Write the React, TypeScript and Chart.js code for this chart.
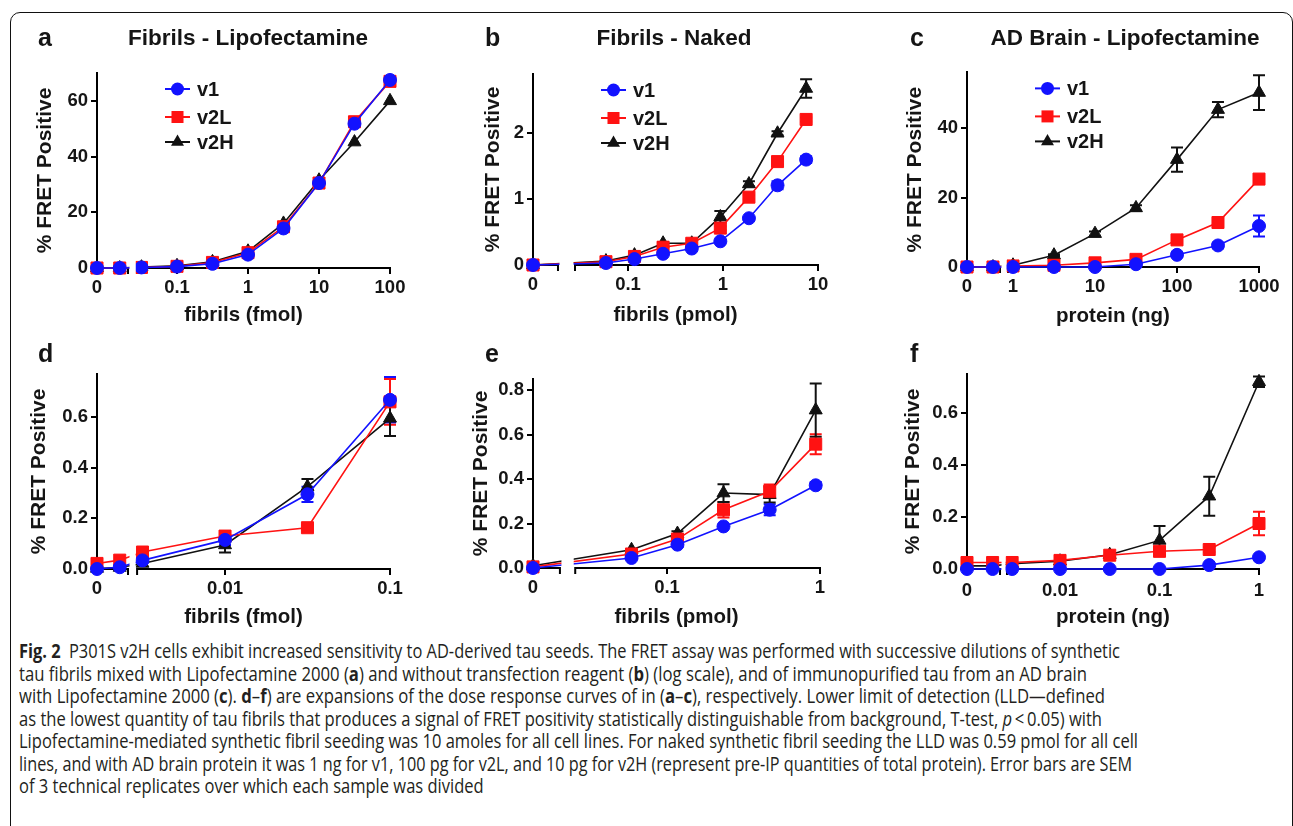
import React, { useEffect, useLayoutEffect, useRef } from 'react';
import { Chart, registerables } from 'chart.js';

Chart.register(...registerables);

// ---------------- DATA ----------------
const SERIES_LABELS = ['v1', 'v2L', 'v2H'];

// Panel a: Fibrils - Lipofectamine (fmol)
const aDose = [0, 0.0156, 0.0316, 0.1, 0.316, 1, 3.16, 10, 31.6, 100];
const aV1 = [0, 0, 0.2, 0.5, 1.5, 4.8, 14.2, 30.5, 51.8, 67.5];
const aV2L = [0, 0, 0.2, 0.6, 2.0, 5.5, 14.8, 30.5, 52.5, 67.0];
const aV2H = [0, 0, 0.3, 0.8, 2.2, 6.0, 16.0, 31.5, 45.2, 60.0];
const aE1 = [0, 0, 0, 0, 0, 0, 0, 0, 0, 1];
const aE2L = [0, 0, 0, 0, 0, 0, 0, 0, 0, 1];
const aE2H = [0, 0, 0, 0, 0, 0, 0, 0, 0, 0];
const aXTicks = [0, 0.1, 1, 10, 100];
const aXTickLabels = ['0', '0.1', '1', '10', '100'];
const aYTicks = [0, 20, 40, 60];
const aYTickLabels = ['0', '20', '40', '60'];

// Panel b: Fibrils - Naked (pmol)
const bDose = [0, 0.0586, 0.117, 0.234, 0.469, 0.9375, 1.875, 3.75, 7.5];
const bV1 = [0, 0.03, 0.09, 0.17, 0.25, 0.36, 0.71, 1.21, 1.6];
const bV2L = [0, 0.05, 0.13, 0.27, 0.33, 0.56, 1.03, 1.57, 2.21];
const bV2H = [0, 0.06, 0.15, 0.33, 0.33, 0.73, 1.23, 2.0, 2.68];
const bE1 = [0, 0, 0, 0, 0, 0, 0.02, 0.06, 0.05];
const bE2L = [0, 0, 0, 0, 0, 0.03, 0.03, 0.04, 0.03];
const bE2H = [0, 0, 0, 0.02, 0, 0.09, 0.04, 0.03, 0.14];
const bXTicks = [0, 0.1, 1, 10];
const bXTickLabels = ['0', '0.1', '1', '10'];
const bYTicks = [0, 1, 2];
const bYTickLabels = ['0', '1', '2'];

// Panel c: AD Brain - Lipofectamine (ng)
const cDose = [0, 0.57, 1, 3.16, 10, 31.6, 100, 316, 1000];
const cV1 = [0, 0, 0, 0, 0, 0.8, 3.5, 6.2, 11.8];
const cV2L = [0, 0, 0.3, 0.5, 1.2, 2.2, 7.8, 12.8, 25.3];
const cV2H = [0, 0, 0.5, 3.4, 9.6, 17.0, 30.9, 45.3, 50.2];
const cE1 = [0, 0, 0, 0, 0, 0, 0.6, 0.8, 3];
const cE2L = [0, 0, 0, 0, 0, 0, 0.6, 1.2, 1];
const cE2H = [0, 0, 0, 0.3, 0.6, 0.8, 3.5, 2.2, 5];
const cXTicks = [0, 1, 10, 100, 1000];
const cXTickLabels = ['0', '1', '10', '100', '1000'];
const cYTicks = [0, 20, 40];
const cYTickLabels = ['0', '20', '40'];

// Panel d: expansion of a
const dDose = [0, 0.0023, 0.00316, 0.01, 0.0316, 0.1];
const dV1 = [0, 0.007, 0.034, 0.115, 0.295, 0.668];
const dV2L = [0.022, 0.035, 0.067, 0.13, 0.163, 0.66];
const dV2H = [0.002, 0.006, 0.022, 0.095, 0.325, 0.595];
const dE1 = [0, 0, 0.01, 0.02, 0.03, 0.09];
const dE2L = [0, 0, 0, 0.02, 0.01, 0.09];
const dE2H = [0, 0, 0, 0.03, 0.03, 0.07];
const dXTicks = [0, 0.01, 0.1];
const dXTickLabels = ['0', '0.01', '0.1'];
const dYTicks = [0, 0.2, 0.4, 0.6];
const dYTickLabels = ['0.0', '0.2', '0.4', '0.6'];

// Panel e: expansion of b
const eDose = [0, 0.0586, 0.117, 0.234, 0.469, 0.9375];
const eV1 = [0, 0.045, 0.105, 0.187, 0.262, 0.372];
const eV2L = [0.005, 0.063, 0.13, 0.262, 0.345, 0.557];
const eV2H = [0.01, 0.082, 0.155, 0.337, 0.33, 0.71];
const eE1 = [0, 0, 0.01, 0, 0.025, 0.015];
const eE2L = [0, 0, 0.01, 0.035, 0.03, 0.045];
const eE2H = [0, 0, 0.01, 0.04, 0.035, 0.12];
const eXTicks = [0, 0.1, 1];
const eXTickLabels = ['0', '0.1', '1'];
const eYTicks = [0, 0.2, 0.4, 0.6, 0.8];
const eYTickLabels = ['0.0', '0.2', '0.4', '0.6', '0.8'];

// Panel f: expansion of c
const fDose = [0, 0.0021, 0.0033, 0.01, 0.0316, 0.1, 0.316, 1];
const fV1 = [0, 0, 0, 0, 0, 0, 0.015, 0.045];
const fV2L = [0.025, 0.025, 0.025, 0.033, 0.053, 0.068, 0.075, 0.175];
const fV2H = [0.012, 0.012, 0.02, 0.03, 0.055, 0.11, 0.28, 0.72];
const fE1 = [0, 0, 0, 0, 0, 0, 0, 0];
const fE2L = [0, 0, 0, 0, 0, 0.01, 0.01, 0.045];
const fE2H = [0, 0, 0, 0, 0, 0.055, 0.075, 0.02];
const fXTicks = [0, 0.01, 0.1, 1];
const fXTickLabels = ['0', '0.01', '0.1', '1'];
const fYTicks = [0, 0.2, 0.4, 0.6];
const fYTickLabels = ['0.0', '0.2', '0.4', '0.6'];

type Seg = { t: string; b?: boolean; i?: boolean };
const captionLines: Seg[][] = [
  [{ t: 'Fig. 2', b: true }, { t: '\u2002P301S v2H cells exhibit increased sensitivity to AD-derived tau seeds. The FRET assay was performed with successive dilutions of synthetic' }],
  [{ t: 'tau fibrils mixed with Lipofectamine 2000 (' }, { t: 'a', b: true }, { t: ') and without transfection reagent (' }, { t: 'b', b: true }, { t: ') (log scale), and of immunopurified tau from an AD brain' }],
  [{ t: 'with Lipofectamine 2000 (' }, { t: 'c', b: true }, { t: '). ' }, { t: 'd', b: true }, { t: '–' }, { t: 'f', b: true }, { t: ') are expansions of the dose response curves of in (' }, { t: 'a', b: true }, { t: '–' }, { t: 'c', b: true }, { t: '), respectively. Lower limit of detection (LLD—defined' }],
  [{ t: 'as the lowest quantity of tau fibrils that produces a signal of FRET positivity statistically distinguishable from background, T-test, ' }, { t: 'p', i: true }, { t: '\u2009<\u20090.05) with' }],
  [{ t: 'Lipofectamine-mediated synthetic fibril seeding was 10 amoles for all cell lines. For naked synthetic fibril seeding the LLD was 0.59 pmol for all cell' }],
  [{ t: 'lines, and with AD brain protein it was 1 ng for v1, 100 pg for v2L, and 10 pg for v2H (represent pre-IP quantities of total protein). Error bars are SEM' }],
  [{ t: 'of 3 technical replicates over which each sample was divided' }],
];

// ---------------- STYLE / LAYOUT ----------------
const FONT = '"Liberation Sans", Arial, Helvetica, sans-serif';
const TXT = '#151515';
type Shape = 'circle' | 'rect' | 'triangle';
const SERIES_STYLE: { color: string; shape: Shape; radius: number }[] = [
  { color: '#1212ff', shape: 'circle', radius: 6.5 },
  { color: '#ff1212', shape: 'rect', radius: 8.5 },
  { color: '#111111', shape: 'triangle', radius: 7.5 },
];

interface Panel {
  letter: string;
  title?: string;
  xTitle: string;
  dose: number[];
  series: { values: number[]; errors: number[] }[];
  xTicks: number[];
  xTickLabels: string[];
  yTicks: number[];
  yTickLabels: string[];
  yMax: number;
  zeroPos: number;
  gap: [number, number];
  legend: boolean;
  box: { left: number; top: number; width: number; height: number };
  area: { axisX: number; right: number; top: number; bottom: number };
  yTitleX: number;
  xTitleY: number;
  xTickPad: number;
}

const panels: Panel[] = [
  {
    letter: 'a', title: 'Fibrils - Lipofectamine', xTitle: 'fibrils (fmol)', dose: aDose,
    series: [{ values: aV1, errors: aE1 }, { values: aV2L, errors: aE2L }, { values: aV2H, errors: aE2H }],
    xTicks: aXTicks, xTickLabels: aXTickLabels, yTicks: aYTicks, yTickLabels: aYTickLabels,
    yMax: 70, zeroPos: -2.127, gap: [-1.69, -1.56], legend: true,
    box: { left: 15, top: 50, width: 400, height: 285 }, area: { axisX: 97, right: 390, top: 73, bottom: 268 },
    yTitleX: 45, xTitleY: 315, xTickPad: 3,
  },
  {
    letter: 'b', title: 'Fibrils - Naked', xTitle: 'fibrils (pmol)', dose: bDose,
    series: [{ values: bV1, errors: bE1 }, { values: bV2L, errors: bE2L }, { values: bV2H, errors: bE2H }],
    xTicks: bXTicks, xTickLabels: bXTickLabels, yTicks: bYTicks, yTickLabels: bYTickLabels,
    yMax: 2.9, zeroPos: -2.0, gap: [-1.737, -1.558], legend: true,
    box: { left: 448, top: 50, width: 400, height: 285 }, area: { axisX: 533, right: 818, top: 74, bottom: 265 },
    yTitleX: 493, xTitleY: 315, xTickPad: 3,
  },
  {
    letter: 'c', title: 'AD Brain - Lipofectamine', xTitle: 'protein (ng)', dose: cDose,
    series: [{ values: cV1, errors: cE1 }, { values: cV2L, errors: cE2L }, { values: cV2H, errors: cE2H }],
    xTicks: cXTicks, xTickLabels: cXTickLabels, yTicks: cYTicks, yTickLabels: cYTickLabels,
    yMax: 56, zeroPos: -0.561, gap: [-0.159, -0.061], legend: true,
    box: { left: 882, top: 50, width: 405, height: 285 }, area: { axisX: 967, right: 1259, top: 72.4, bottom: 267 },
    yTitleX: 915, xTitleY: 316, xTickPad: 3,
  },
  {
    letter: 'd', xTitle: 'fibrils (fmol)', dose: dDose,
    series: [{ values: dV1, errors: dE1 }, { values: dV2L, errors: dE2L }, { values: dV2H, errors: dE2H }],
    xTicks: dXTicks, xTickLabels: dXTickLabels, yTicks: dYTicks, yTickLabels: dYTickLabels,
    yMax: 0.77, zeroPos: -2.776, gap: [-2.588, -2.533], legend: false,
    box: { left: 15, top: 350, width: 400, height: 285 }, area: { axisX: 97, right: 390, top: 374, bottom: 569 },
    yTitleX: 39, xTitleY: 617, xTickPad: 3,
  },
  {
    letter: 'e', xTitle: 'fibrils (pmol)', dose: eDose,
    series: [{ values: eV1, errors: eE1 }, { values: eV2L, errors: eE2L }, { values: eV2H, errors: eE2H }],
    xTicks: eXTicks, xTickLabels: eXTickLabels, yTicks: eYTicks, yTickLabels: eYTickLabels,
    yMax: 0.85, zeroPos: -1.876, gap: [-1.70, -1.60], legend: false,
    box: { left: 448, top: 350, width: 400, height: 285 }, area: { axisX: 533, right: 820, top: 379, bottom: 568 },
    yTitleX: 481, xTitleY: 617, xTickPad: 3,
  },
  {
    letter: 'f', xTitle: 'protein (ng)', dose: fDose,
    series: [{ values: fV1, errors: fE1 }, { values: fV2L, errors: fE2L }, { values: fV2H, errors: fE2H }],
    xTicks: fXTicks, xTickLabels: fXTickLabels, yTicks: fYTicks, yTickLabels: fYTickLabels,
    yMax: 0.75, zeroPos: -2.935, gap: [-2.603, -2.533], legend: false,
    box: { left: 882, top: 350, width: 405, height: 285 }, area: { axisX: 967, right: 1259, top: 374, bottom: 569 },
    yTitleX: 913, xTitleY: 617, xTickPad: 5,
  },
];

const toPos = (v: number, zeroPos: number) => (v === 0 ? zeroPos : Math.log10(v));

function drawMarker(ctx: CanvasRenderingContext2D, shape: Shape, r: number, x: number, y: number) {
  ctx.beginPath();
  if (shape === 'circle') {
    ctx.arc(x, y, r, 0, Math.PI * 2);
  } else if (shape === 'rect') {
    const s = Math.SQRT1_2 * r;
    ctx.rect(x - s, y - s, 2 * s, 2 * s);
  } else {
    let rad = 0;
    ctx.moveTo(x + Math.sin(rad) * r, y - Math.cos(rad) * r);
    rad += (2 * Math.PI) / 3;
    ctx.lineTo(x + Math.sin(rad) * r, y - Math.cos(rad) * r);
    rad += (2 * Math.PI) / 3;
    ctx.lineTo(x + Math.sin(rad) * r, y - Math.cos(rad) * r);
    ctx.closePath();
  }
  ctx.fill();
}

function makePlugin(p: Panel) {
  return {
    id: 'panelExtras',
    beforeDatasetsDraw(chart: any) {
      const ctx: CanvasRenderingContext2D = chart.ctx;
      const xs = chart.scales.x;
      const ys = chart.scales.y;
      const y0 = ys.getPixelForValue(0);
      const g0 = xs.getPixelForValue(p.gap[0]);
      const g1 = xs.getPixelForValue(p.gap[1]);
      ctx.save();
      // broken x axis
      ctx.strokeStyle = '#000';
      ctx.lineWidth = 2;
      ctx.beginPath();
      ctx.moveTo(xs.getPixelForValue(p.zeroPos) - 1, y0);
      ctx.lineTo(g0, y0);
      ctx.moveTo(g1, y0);
      ctx.lineTo(xs.getPixelForValue(xs.max) + 1, y0);
      ctx.moveTo(g0, y0 - 1);
      ctx.lineTo(g0, y0 + 6);
      ctx.moveTo(g1, y0 - 1);
      ctx.lineTo(g1, y0 + 6);
      ctx.stroke();
      // error bars
      p.series.forEach((s, i) => {
        const meta = chart.getDatasetMeta(i);
        ctx.strokeStyle = SERIES_STYLE[i].color;
        ctx.lineWidth = 2;
        s.errors.forEach((e, j) => {
          if (!e) return;
          const x = meta.data[j].x;
          const v = s.values[j];
          const yt = ys.getPixelForValue(v + e);
          const yb = ys.getPixelForValue(Math.max(0, v - e));
          ctx.beginPath();
          ctx.moveTo(x, yt);
          ctx.lineTo(x, yb);
          ctx.moveTo(x - 6, yt);
          ctx.lineTo(x + 6, yt);
          ctx.moveTo(x - 6, yb);
          ctx.lineTo(x + 6, yb);
          ctx.stroke();
        });
      });
      ctx.restore();
    },
    afterDatasetsDraw(chart: any) {
      const ctx: CanvasRenderingContext2D = chart.ctx;
      const xs = chart.scales.x;
      const ys = chart.scales.y;
      const y0 = ys.getPixelForValue(0);
      const g0 = xs.getPixelForValue(p.gap[0]);
      const g1 = xs.getPixelForValue(p.gap[1]);
      ctx.save();
      ctx.fillStyle = '#ffffff';
      ctx.fillRect(g0 + 1.5, chart.chartArea.top, g1 - g0 - 3, y0 - chart.chartArea.top + 8);
      ctx.restore();
    },
    afterDraw(chart: any) {
      if (!p.legend) return;
      const ctx: CanvasRenderingContext2D = chart.ctx;
      const { left, top } = chart.chartArea;
      const rows = [16, 44, 69];
      ctx.save();
      SERIES_STYLE.forEach((st, i) => {
        const y = top + rows[i];
        ctx.strokeStyle = st.color;
        ctx.fillStyle = st.color;
        ctx.lineWidth = 2;
        ctx.beginPath();
        ctx.moveTo(left + 68, y);
        ctx.lineTo(left + 93, y);
        ctx.stroke();
        drawMarker(ctx, st.shape, st.radius, left + 80.5, y);
        ctx.fillStyle = TXT;
        ctx.font = `bold 20px ${FONT}`;
        ctx.textBaseline = 'middle';
        ctx.textAlign = 'left';
        ctx.fillText(SERIES_LABELS[i], left + 100, y + 1);
      });
      ctx.restore();
    },
  };
}

function PanelChart({ p }: { p: Panel }) {
  const ref = useRef<HTMLCanvasElement>(null);
  useEffect(() => {
    const { box, area } = p;
    const yWidth = area.axisX - box.left;
    const xHeight = box.top + box.height - area.bottom;
    const yTitlePad = p.yTitleX - box.left - 12.6;
    const xTitlePad = box.top + box.height - p.xTitleY - 12.3;
    const tickFont = { family: FONT, size: 18.5, weight: 'bold' as const };
    const chart = new Chart(ref.current as HTMLCanvasElement, {
      type: 'line',
      data: {
        datasets: p.series.map((s, i) => {
          const st = SERIES_STYLE[i];
          return {
            label: SERIES_LABELS[i],
            data: p.dose.map((d, j) => ({ x: toPos(d, p.zeroPos), y: s.values[j] })),
            borderColor: st.color,
            backgroundColor: st.color,
            pointBackgroundColor: st.color,
            pointBorderColor: st.color,
            pointStyle: st.shape,
            pointRadius: st.radius,
            pointBorderWidth: 1,
            borderWidth: 1.6,
            tension: 0,
            fill: false,
            clip: false as any,
          };
        }),
      },
      options: {
        animation: false,
        responsive: false,
        events: [],
        layout: {
          padding: { left: 0, top: area.top - box.top, right: box.left + box.width - area.right, bottom: 0 },
        },
        plugins: { legend: { display: false }, tooltip: { enabled: false }, title: { display: false } },
        scales: {
          x: {
            type: 'linear',
            min: p.zeroPos,
            max: Math.log10(p.xTicks[p.xTicks.length - 1]),
            bounds: 'data',
            afterBuildTicks: (s: any) => {
              s.ticks = p.xTicks.map((v) => ({ value: toPos(v, p.zeroPos) }));
            },
            afterFit: (s: any) => {
              s.height = xHeight;
            },
            ticks: {
              callback: (_v: any, i: number) => p.xTickLabels[i],
              autoSkip: false,
              maxRotation: 0,
              minRotation: 0,
              padding: p.xTickPad,
              color: TXT,
              font: tickFont,
            },
            grid: { drawOnChartArea: false, drawTicks: true, tickLength: 6, color: '#000', lineWidth: 2 },
            border: { display: false },
            title: {
              display: true,
              text: p.xTitle,
              color: TXT,
              font: { family: FONT, size: 20.5, weight: 'bold' },
              padding: { top: 0, bottom: xTitlePad },
            },
          },
          y: {
            type: 'linear',
            min: 0,
            max: p.yMax,
            bounds: 'data',
            afterBuildTicks: (s: any) => {
              s.ticks = p.yTicks.map((v) => ({ value: v }));
            },
            afterFit: (s: any) => {
              s.width = yWidth;
            },
            ticks: {
              callback: (_v: any, i: number) => p.yTickLabels[i],
              autoSkip: false,
              padding: 3,
              color: TXT,
              font: tickFont,
            },
            grid: { drawOnChartArea: false, drawTicks: true, tickLength: 6, color: '#000', lineWidth: 2 },
            border: { display: true, color: '#000', width: 2 },
            title: {
              display: true,
              text: '% FRET Positive',
              color: TXT,
              font: { family: FONT, size: 21, weight: 'bold' },
              padding: { top: yTitlePad, bottom: 0 },
            },
          },
        },
      },
      plugins: [makePlugin(p)],
    } as any);
    return () => chart.destroy();
  }, [p]);
  return (
    <canvas
      ref={ref}
      width={p.box.width}
      height={p.box.height}
      style={{
        position: 'absolute',
        left: p.box.left,
        top: p.box.top,
        width: p.box.width,
        height: p.box.height,
        display: 'block',
      }}
    />
  );
}

const CAPTION_LEFT = 19;
const CAPTION_TOP = 640;
// target widths of the justified-looking lines (last line uses the average squeeze)
const CAPTION_WIDTHS = [1101, 1068, 1086, 1083, 1119, 1113];

function Caption() {
  const refs = useRef<(HTMLSpanElement | null)[]>([]);
  useLayoutEffect(() => {
    const apply = () => {
      const ks: number[] = [];
      refs.current.forEach((el, i) => {
        if (!el) return;
        el.style.transform = 'none';
        const w = el.getBoundingClientRect().width;
        if (i < CAPTION_WIDTHS.length) {
          const k = CAPTION_WIDTHS[i] / w;
          ks.push(k);
          el.style.transform = `scaleX(${k})`;
        }
      });
      const avg = ks.reduce((a, b) => a + b, 0) / Math.max(1, ks.length);
      refs.current.forEach((el, i) => {
        if (el && i >= CAPTION_WIDTHS.length) el.style.transform = `scaleX(${avg})`;
      });
    };
    apply();
    if ((document as any).fonts && (document as any).fonts.ready) {
      (document as any).fonts.ready.then(apply);
    }
  }, []);
  return (
    <div
      style={{
        position: 'absolute',
        left: CAPTION_LEFT,
        top: CAPTION_TOP,
        fontFamily: '"Open Sans", "Noto Sans", sans-serif',
        fontSize: 19.5,
        lineHeight: '22.5px',
        color: '#231f20',
      }}
    >
      {captionLines.map((line, li) => (
        <div key={li} style={{ whiteSpace: 'nowrap', height: 22.5 }}>
          <span
            ref={(el) => {
              refs.current[li] = el;
            }}
            style={{ display: 'inline-block', transformOrigin: 'left center' }}
          >
            {line.map((s, si) => (
              <span key={si} style={{ fontWeight: s.b ? 700 : 400, fontStyle: s.i ? 'italic' : 'normal' }}>
                {s.t}
              </span>
            ))}
          </span>
        </div>
      ))}
    </div>
  );
}

const letterPos = [
  { x: 38, y: 25 },
  { x: 485, y: 25 },
  { x: 910, y: 25 },
  { x: 38, y: 341 },
  { x: 485, y: 341 },
  { x: 910, y: 341 },
];
const titleCenters = [248, 674, 1125];

export default function App() {
  return (
    <div
      style={{
        position: 'absolute',
        left: 0,
        top: 0,
        width: 1293,
        height: 826,
        overflow: 'hidden',
        background: '#ffffff',
      }}
    >
      <div
        style={{
          position: 'absolute',
          left: 10,
          top: 12,
          width: 1283,
          height: 900,
          boxSizing: 'border-box',
          border: '1.5px solid #111',
          borderRadius: 10,
        }}
      />
      {panels.map((p) => (
        <PanelChart key={p.letter} p={p} />
      ))}
      {panels.map((p, i) => (
        <div
          key={'l' + p.letter}
          style={{
            position: 'absolute',
            left: letterPos[i].x,
            top: letterPos[i].y,
            fontFamily: FONT,
            fontWeight: 700,
            fontSize: 25,
            lineHeight: 1,
            color: TXT,
          }}
        >
          {p.letter}
        </div>
      ))}
      {panels.slice(0, 3).map((p, i) => (
        <div
          key={'t' + p.letter}
          style={{
            position: 'absolute',
            left: titleCenters[i] - 200,
            width: 400,
            top: 27,
            textAlign: 'center',
            fontFamily: FONT,
            fontWeight: 700,
            fontSize: 22.5,
            lineHeight: 1,
            color: TXT,
          }}
        >
          {p.title}
        </div>
      ))}
      <Caption />
    </div>
  );
}
